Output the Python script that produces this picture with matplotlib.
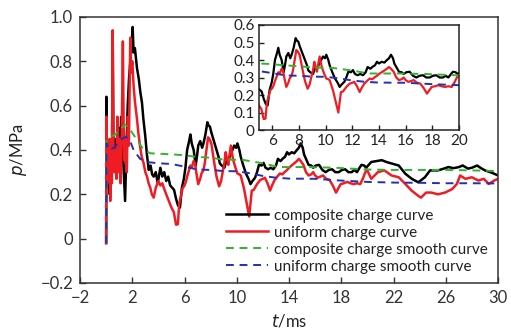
import matplotlib
matplotlib.use("Agg")
import matplotlib.pyplot as plt

plt.rcParams['font.family'] = ['Lato', 'DejaVu Sans']
plt.rcParams['axes.unicode_minus'] = True

# composite charge curve (black)
t_comp = [0.0, 0.02, 0.06, 0.12, 0.2, 0.28, 0.36, 0.44, 0.5, 0.56, 0.65, 0.75, 0.85, 0.95,
          1.05, 1.15, 1.25, 1.35, 1.45, 1.55, 1.65, 1.75, 1.85, 1.95, 2.03, 2.1, 2.2, 2.36,
          2.5, 2.62, 2.74, 2.85, 3.0, 3.12, 3.26, 3.4, 3.52, 3.64, 3.8, 3.95, 4.15, 4.3,
          4.45, 4.6, 4.75, 4.9, 5.05, 5.2, 5.35, 5.5, 5.65, 5.8, 5.95, 6.07, 6.2, 6.35,
          6.45, 6.55, 6.7, 6.85, 6.95, 7.05, 7.2, 7.35, 7.45, 7.6, 7.75, 7.85, 7.95, 8.05,
          8.15, 8.3, 8.45, 8.6, 8.7, 8.85, 9.05, 9.2, 9.4, 9.6, 9.8, 9.95, 10.05, 10.2,
          10.3, 10.5, 10.7, 10.9, 11.05, 11.2, 11.4, 11.55, 11.7, 11.9, 12.05, 12.2, 12.4,
          12.6, 12.8, 13.0, 13.15, 13.35, 13.5, 13.7, 13.85, 14.0, 14.2, 14.4, 14.6, 14.75,
          14.9, 15.05, 15.15, 15.3, 15.5, 15.7, 15.85, 16.05, 16.3, 16.55, 16.8, 17.05,
          17.3, 17.55, 17.8, 18.05, 18.3, 18.55, 18.8, 19.0, 19.2, 19.4, 19.55, 19.75, 19.9,
          20.3, 20.7, 21.1, 21.5, 21.85, 22.4, 22.9, 23.4, 23.9, 24.4, 24.8, 25.4, 25.8,
          26.2, 26.6, 27.0, 27.3, 27.7, 28.0, 28.4, 28.7, 29.0, 29.4, 29.7, 30.0]
p_comp = [-0.02, 0.64, 0.30, 0.42, 0.33, 0.20, 0.38, 0.30, 0.93, 0.40, 0.33, 0.45, 0.30, 0.50,
          0.38, 0.55, 0.42, 0.30, 0.17, 0.40, 0.60, 0.72, 0.80, 0.88, 0.955, 0.84, 0.86, 0.77,
          0.72, 0.66, 0.615, 0.54, 0.46, 0.38, 0.31, 0.33, 0.29, 0.28, 0.30, 0.25, 0.32, 0.28,
          0.30, 0.26, 0.28, 0.24, 0.23, 0.22, 0.18, 0.15, 0.14, 0.23, 0.27, 0.32, 0.40, 0.44,
          0.47, 0.43, 0.40, 0.33, 0.37, 0.42, 0.44, 0.41, 0.43, 0.47, 0.525, 0.51, 0.505, 0.48,
          0.46, 0.43, 0.40, 0.37, 0.34, 0.33, 0.32, 0.35, 0.36, 0.39, 0.42, 0.41, 0.43, 0.40,
          0.37, 0.33, 0.294, 0.27, 0.246, 0.26, 0.275, 0.30, 0.333, 0.33, 0.342, 0.32, 0.313,
          0.32, 0.313, 0.33, 0.36, 0.35, 0.36, 0.37, 0.39, 0.38, 0.39, 0.385, 0.40, 0.41,
          0.43, 0.41, 0.38, 0.36, 0.333, 0.33, 0.32, 0.33, 0.333, 0.31, 0.30, 0.31,
          0.313, 0.30, 0.30, 0.31, 0.313, 0.30, 0.30, 0.31, 0.30, 0.32, 0.333, 0.33, 0.32,
          0.346, 0.35, 0.354, 0.345, 0.339, 0.33, 0.293, 0.27, 0.254, 0.277, 0.308, 0.308, 0.315,
          0.323, 0.318, 0.323, 0.33, 0.316, 0.32, 0.33, 0.318, 0.308, 0.30, 0.293, 0.285]

# uniform charge curve (red)
t_unif = [0.0, 0.02, 0.08, 0.14, 0.2, 0.26, 0.31, 0.38, 0.44, 0.5, 0.55, 0.62, 0.7, 0.78,
          0.86, 0.95, 1.02, 1.1, 1.18, 1.28, 1.34, 1.42, 1.5, 1.58, 1.66, 1.74, 1.8, 1.85,
          1.92, 2.0, 2.1, 2.2, 2.36, 2.48, 2.6, 2.72, 2.87, 3.0, 3.13, 3.25, 3.38, 3.5, 3.64,
          3.8, 4.0, 4.15, 4.3, 4.41, 4.6, 4.8, 5.0, 5.18, 5.35, 5.49, 5.6, 5.72, 5.85, 6.0,
          6.1, 6.2, 6.3, 6.45, 6.55, 6.7, 6.8, 6.95, 7.05, 7.2, 7.3, 7.45, 7.55, 7.7, 7.8,
          7.9, 8.05, 8.15, 8.3, 8.45, 8.65, 8.8, 8.9, 9.05, 9.15, 9.25, 9.35, 9.45, 9.55,
          9.65, 9.75, 9.9, 10.05, 10.2, 10.3, 10.45, 10.55, 10.7, 10.8, 10.95, 11.05, 11.15,
          11.3, 11.45, 11.6, 11.8, 12.0, 12.15, 12.35, 12.55, 12.7, 12.9, 13.1, 13.3, 13.5,
          13.65, 13.85, 14.0, 14.2, 14.4, 14.6, 14.75, 14.9, 15.1, 15.3, 15.5, 15.7, 15.85,
          16.0, 16.2, 16.4, 16.6, 16.85, 17.1, 17.35, 17.6, 17.8, 17.95, 18.2, 18.45, 18.7,
          18.95, 19.2, 19.45, 19.65, 19.8, 19.95, 20.3, 20.8, 21.3, 21.85, 22.4, 22.9, 23.4,
          23.9, 24.1, 24.5, 24.9, 25.4, 25.95, 26.5, 26.85, 27.1, 27.5, 28.0, 28.5, 28.9,
          29.3, 29.7, 30.0]
p_unif = [-0.02, 0.55, 0.25, 0.40, 0.30, 0.45, 0.17, 0.35, 0.25, 0.94, 0.45, 0.30, 0.40, 0.27,
          0.55, 0.30, 0.45, 0.25, 0.40, 0.89, 0.50, 0.35, 0.45, 0.30, 0.55, 0.42, 0.70, 0.906,
          0.75, 0.80, 0.69, 0.62, 0.54, 0.47, 0.415, 0.37, 0.34, 0.30, 0.28, 0.25, 0.23, 0.20, 0.185,
          0.23, 0.26, 0.24, 0.25, 0.23, 0.20, 0.17, 0.14, 0.12, 0.063, 0.065, 0.16, 0.19, 0.227, 0.24,
          0.256, 0.28, 0.30, 0.33, 0.32, 0.35, 0.34, 0.28, 0.246, 0.27, 0.294, 0.31, 0.34, 0.41, 0.457,
          0.45, 0.43, 0.39, 0.333, 0.28, 0.236, 0.26, 0.294, 0.34, 0.39, 0.36, 0.333, 0.38, 0.42,
          0.38, 0.35, 0.32, 0.294, 0.29, 0.285, 0.25, 0.227, 0.18, 0.15, 0.10, 0.16, 0.217,
          0.22, 0.236, 0.25, 0.265, 0.27, 0.275, 0.25, 0.217, 0.24, 0.265, 0.28, 0.294, 0.29,
          0.30, 0.31, 0.32, 0.33, 0.34, 0.35, 0.36, 0.35, 0.333, 0.30, 0.285, 0.29, 0.30,
          0.285, 0.275, 0.28, 0.285, 0.27, 0.265, 0.24, 0.208, 0.23, 0.246, 0.25, 0.256, 0.25,
          0.246, 0.25, 0.246, 0.27, 0.294, 0.313, 0.27, 0.30, 0.308, 0.285, 0.277, 0.247, 0.216,
          0.193, 0.185, 0.208, 0.208, 0.20, 0.208, 0.224, 0.247, 0.285, 0.27, 0.277, 0.262, 0.27,
          0.247, 0.262, 0.27]

# smooth curves (dashed)
t_comp_s = [0.0, 0.03, 0.3, 0.7, 1.1, 1.46, 1.8, 2.36, 2.87, 3.4, 4.5, 5.9, 6.8, 8.0, 9.0,
            10.5, 12.0, 13.2, 15.5, 17.5, 20.0, 22.0, 24.0, 26.0, 28.0, 30.0]
p_comp_s = [-0.02, 0.446, 0.46, 0.47, 0.495, 0.515, 0.495, 0.446, 0.40, 0.385, 0.382, 0.377,
            0.37, 0.365, 0.357, 0.355, 0.34, 0.323, 0.323, 0.32, 0.312, 0.31, 0.31, 0.31,
            0.308, 0.305]
t_unif_s = [0.0, 0.03, 0.3, 0.7, 1.1, 1.5, 1.8, 2.1, 2.6, 3.1, 4.0, 5.0, 6.0, 7.0, 8.0, 9.0,
            10.0, 11.0, 12.0, 13.0, 14.0, 16.0, 18.0, 20.0, 22.0, 24.0, 26.0, 28.0, 30.0]
p_unif_s = [-0.02, 0.43, 0.40, 0.415, 0.446, 0.46, 0.446, 0.40, 0.36, 0.346, 0.34, 0.337,
            0.325, 0.312, 0.31, 0.305, 0.304, 0.295, 0.283, 0.275, 0.271, 0.27, 0.262, 0.256,
            0.253, 0.252, 0.25, 0.25, 0.249]

labels = ['composite charge curve', 'uniform charge curve',
          'composite charge smooth curve', 'uniform charge smooth curve']

RED = '#f01c24'
GREEN = '#2fb52a'
BLUE = '#2430b0'


def draw(ax, lw):
    ax.plot(t_comp, p_comp, color='black', lw=lw, label=labels[0])
    ax.plot(t_unif, p_unif, color=RED, lw=lw, label=labels[1])
    ax.plot(t_comp_s, p_comp_s, color=GREEN, lw=1.4, ls=(0, (4, 3)), label=labels[2])
    ax.plot(t_unif_s, p_unif_s, color=BLUE, lw=1.4, ls=(0, (4, 3)), label=labels[3])


fig = plt.figure(figsize=(5.11, 3.32), dpi=100)
ax = fig.add_axes([0.1566, 0.1476, 0.818, 0.8012])
draw(ax, 1.8)
ax.set_xlim(-2, 30)
ax.set_ylim(-0.2, 1.0)
ax.set_xticks([-2, 2, 6, 10, 14, 18, 22, 26, 30])
ax.set_yticks([-0.2, 0, 0.2, 0.4, 0.6, 0.8, 1.0])
ax.set_yticklabels(['\u22120.2', '0', '0.2', '0.4', '0.6', '0.8', '1.0'])
ax.tick_params(direction='in', length=4, width=1, labelsize=12, pad=5, colors='#333333')
for s in ax.spines.values():
    s.set_color('#333333')
    s.set_linewidth(1.1)
ax.set_xlabel('$t$/ms', fontsize=12, labelpad=5, color='#222222')
ax.set_ylabel('$p$/MPa', fontsize=12, labelpad=8, color='#222222')

leg = ax.legend(loc='lower left', bbox_to_anchor=(0.335, 0.012), frameon=False,
                fontsize=11, handlelength=2.75, handletextpad=0.35, labelspacing=0.2,
                borderaxespad=0)
for txt in leg.get_texts():
    txt.set_color('#222222')

# inset
ins = fig.add_axes([0.5068, 0.6084, 0.3914, 0.3163])
draw(ins, 1.6)
ins.set_xlim(5, 20)
ins.set_ylim(0, 0.6)
ins.set_xticks([6, 8, 10, 12, 14, 16, 18, 20])
ins.set_yticks([0, 0.1, 0.2, 0.3, 0.4, 0.5, 0.6])
ins.set_yticklabels(['0', '0.1', '0.2', '0.3', '0.4', '0.5', '0.6'])
ins.tick_params(direction='in', length=3.5, width=1, labelsize=11, pad=3, colors='#222222')
for s in ins.spines.values():
    s.set_color('#222222')
    s.set_linewidth(1.1)

fig.savefig('out.png', dpi=100)
